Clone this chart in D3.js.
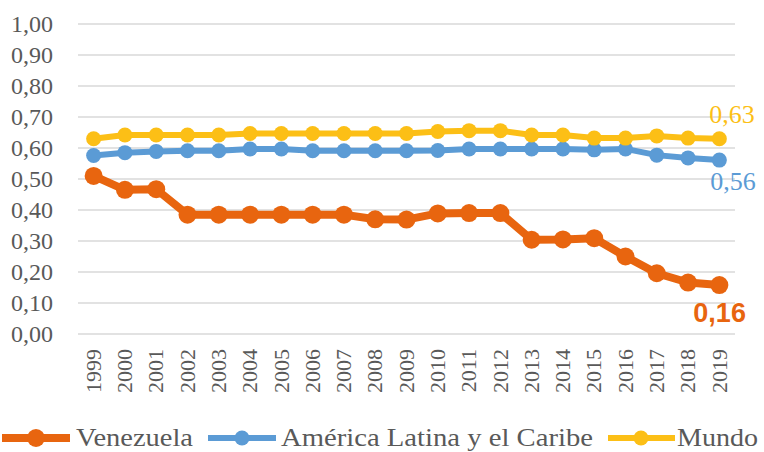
<!DOCTYPE html>
<html><head><meta charset="utf-8">
<script src="https://cdn.jsdelivr.net/npm/d3@7"></script>
</head><body style="margin:0">
<svg id="c" width="764" height="452" font-family="Liberation Serif"></svg>
<script>
const years = ["1999","2000","2001","2002","2003","2004","2005","2006","2007","2008","2009","2010","2011","2012","2013","2014","2015","2016","2017","2018","2019"];
const venezuela = [0.51,0.465,0.467,0.385,0.385,0.385,0.385,0.385,0.385,0.37,0.369,0.389,0.39,0.39,0.304,0.305,0.309,0.25,0.196,0.166,0.158];
const americaLatina = [0.576,0.585,0.589,0.591,0.591,0.597,0.597,0.591,0.591,0.591,0.591,0.592,0.597,0.597,0.597,0.597,0.594,0.597,0.577,0.568,0.561];
const mundo = [0.63,0.642,0.642,0.642,0.642,0.647,0.647,0.647,0.647,0.647,0.647,0.653,0.656,0.656,0.642,0.642,0.632,0.632,0.639,0.632,0.63];
const yTicks = [0,0.1,0.2,0.3,0.4,0.5,0.6,0.7,0.8,0.9,1.0];
const seriesNames = ["Venezuela","América Latina y el Caribe","Mundo"];
const endLabels = ["0,16","0,56","0,63"];

const SERIF = '"Liberation Serif"';
const SANS = '"Liberation Sans"';

const svg = d3.select("#c");
const x = d3.scalePoint().domain(years).range([78,735]).padding(0.5);
const y = d3.scaleLinear().domain([0,1]).range([334,24]);
const fmt = v => d3.format(".2f")(v).replace(".", ",");

svg.append("g").selectAll("line").data(yTicks).join("line")
  .attr("x1",78).attr("x2",735)
  .attr("y1",d=>y(d)).attr("y2",d=>y(d))
  .attr("stroke","#d9d9d9").attr("stroke-width",1.5);

svg.append("g").selectAll("text").data(yTicks).join("text")
  .style("font-family",SERIF).attr("font-size",24)
  .attr("x",53).attr("y",d=>y(d)).attr("dy","0.33em")
  .attr("text-anchor","end")
  .attr("fill","#595959").text(fmt);

svg.append("g").selectAll("text").data(years).join("text")
  .style("font-family",SERIF).attr("font-size",22)
  .attr("transform",d=>`translate(${x(d)},349) rotate(-90)`)
  .attr("dy","0.33em").attr("text-anchor","end")
  .attr("fill","#595959").text(d=>d);

const series = [
  {name:seriesNames[0], values:venezuela, color:"#e8650f", w:8, r:9},
  {name:seriesNames[1], values:americaLatina, color:"#5b9bd5", w:6, r:7.5},
  {name:seriesNames[2], values:mundo, color:"#fcbf16", w:6, r:7.5}
];
const line = d3.line().x((d,i)=>x(years[i])).y(d=>y(d));
series.forEach(s=>{
  const g = svg.append("g");
  g.append("path").attr("d",line(s.values)).attr("fill","none")
    .attr("stroke",s.color).attr("stroke-width",s.w).attr("stroke-linejoin","round");
  g.selectAll("circle").data(s.values).join("circle")
    .attr("cx",(d,i)=>x(years[i])).attr("cy",d=>y(d)).attr("r",s.r).attr("fill",s.color);
});

const last = years[years.length-1];
svg.append("text").style("font-family",SANS).attr("font-weight","bold").attr("font-size",27)
  .attr("x",x(last)-26).attr("y",y(venezuela[20])+37)
  .attr("fill","#e8650f").text(endLabels[0]);
svg.append("text").style("font-family",SERIF).attr("font-size",26)
  .attr("x",x(last)-9).attr("y",y(americaLatina[20])+30)
  .attr("fill","#5b9bd5").text(endLabels[1]);
svg.append("text").style("font-family",SERIF).attr("font-size",26)
  .attr("x",x(last)-10).attr("y",y(mundo[20])-16)
  .attr("fill","#fcbf16").text(endLabels[2]);

const leg = [
  {x1:2,x2:70,cx:36,r:9,w:8,tx:76,tw:117},
  {x1:208,x2:276,cx:242,r:7.5,w:6,tx:281,tw:312},
  {x1:608,x2:675,cx:641,r:7.5,w:6,tx:677,tw:81}
];
series.forEach((s,i)=>{
  const L = leg[i];
  svg.append("line").attr("x1",L.x1).attr("x2",L.x2).attr("y1",438).attr("y2",438)
    .attr("stroke",s.color).attr("stroke-width",L.w);
  svg.append("circle").attr("cx",L.cx).attr("cy",438).attr("r",L.r).attr("fill",s.color);
  svg.append("text").style("font-family",SERIF).attr("font-size",25)
    .attr("x",L.tx).attr("y",446)
    .attr("fill","#595959")
    .attr("textLength",L.tw).attr("lengthAdjust","spacingAndGlyphs")
    .text(s.name);
});
</script>
</body></html>
